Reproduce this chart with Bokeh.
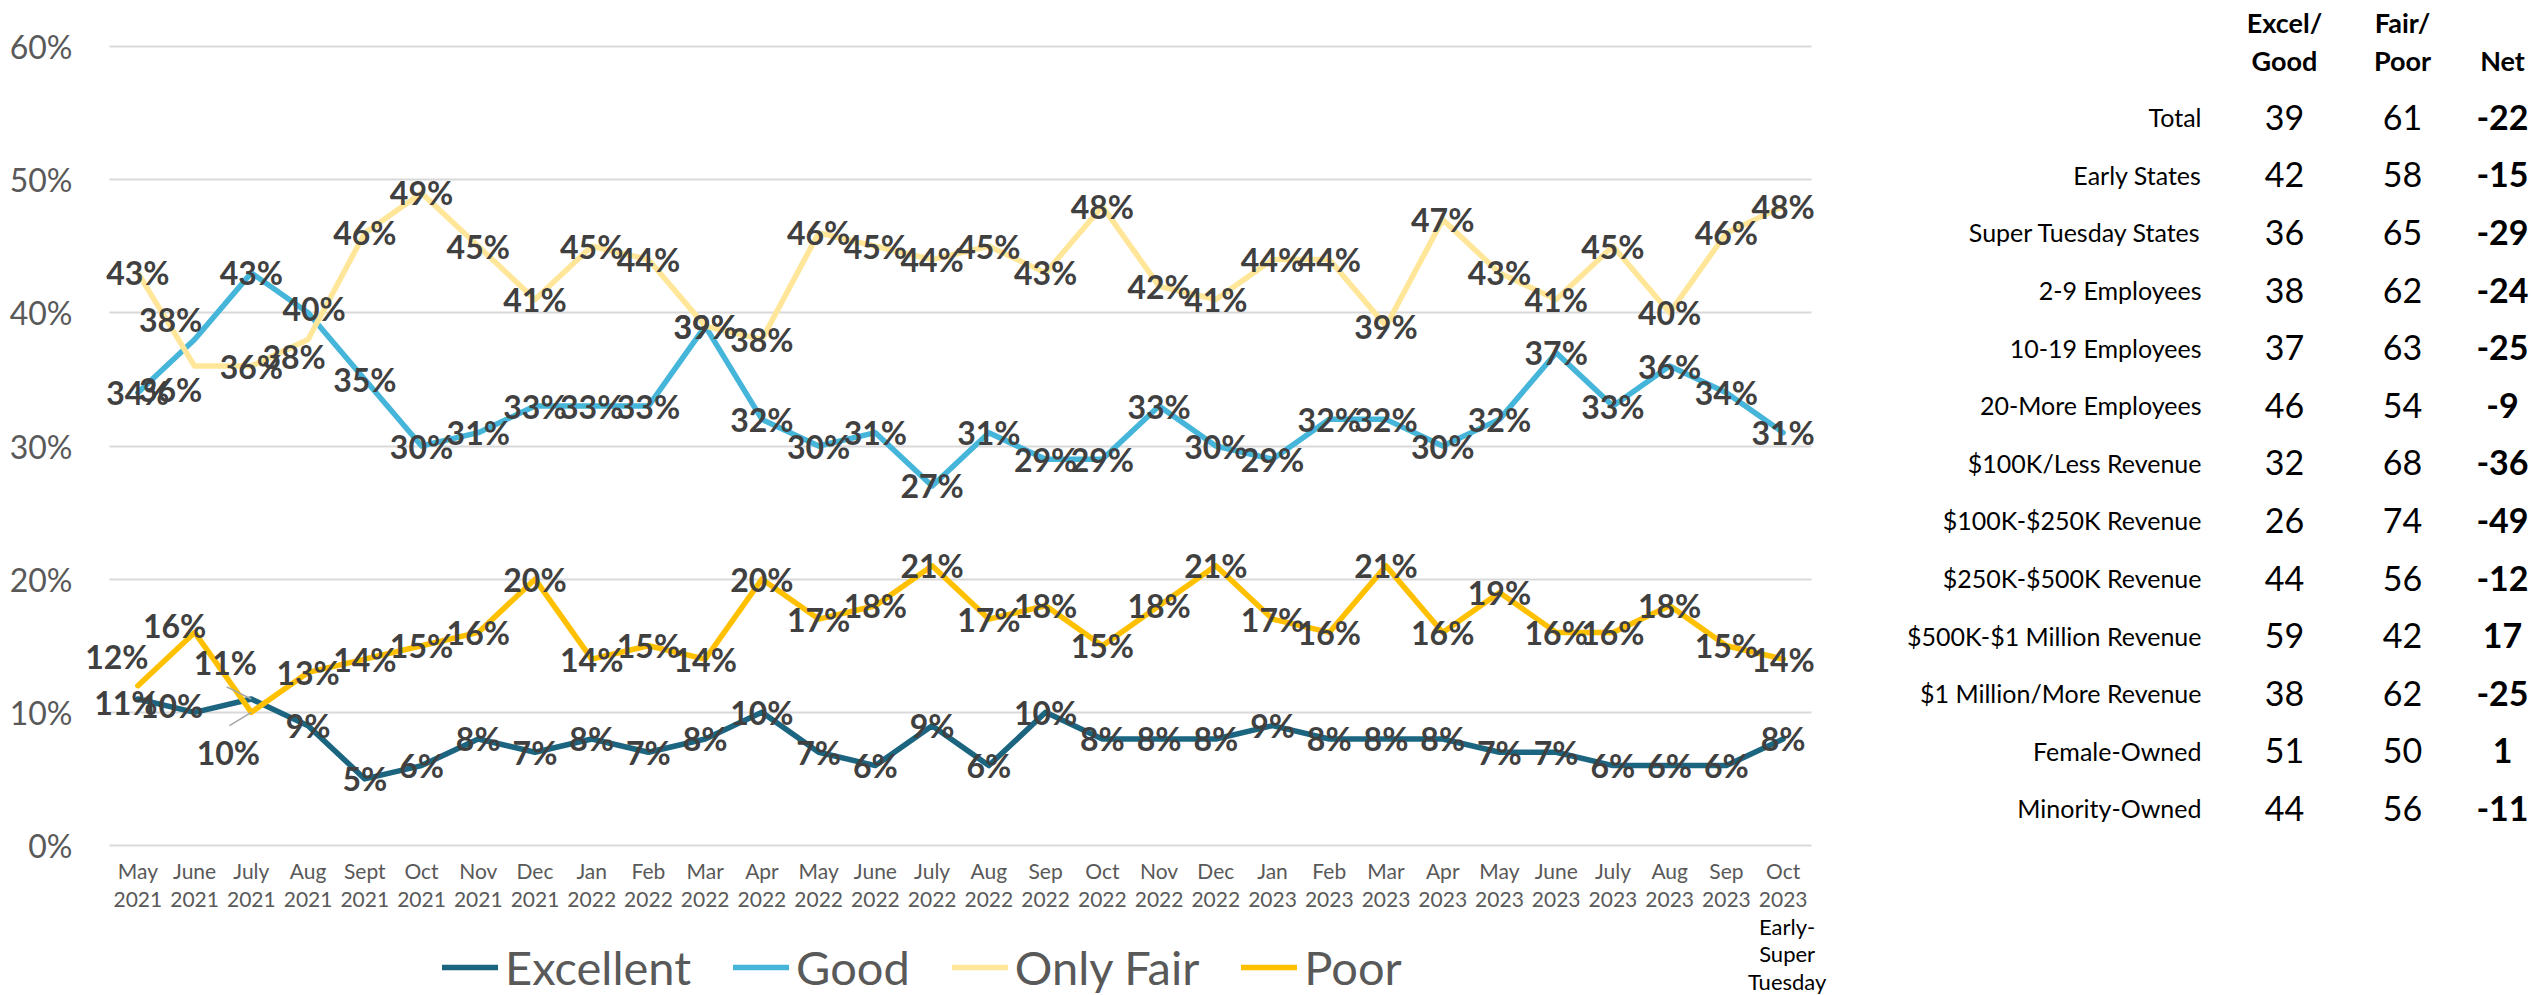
from bokeh.plotting import figure
from bokeh.models import (ColumnDataSource, LabelSet, Label, Legend, LegendItem,
                          FixedTicker, PrintfTickFormatter, Range1d, LinearAxis, Grid)
from bokeh.core.properties import value
from bokeh.embed import file_html
from bokeh.resources import INLINE

# ---------------- data ----------------
months = ["May 2021", "June 2021", "July 2021", "Aug 2021", "Sept 2021", "Oct 2021",
          "Nov 2021", "Dec 2021", "Jan 2022", "Feb 2022", "Mar 2022", "Apr 2022",
          "May 2022", "June 2022", "July 2022", "Aug 2022", "Sep 2022", "Oct 2022",
          "Nov 2022", "Dec 2022", "Jan 2023", "Feb 2023", "Mar 2023", "Apr 2023",
          "May 2023", "June 2023", "July 2023", "Aug 2023", "Sep 2023", "Oct 2023"]

excellent = [11, 10, 11, 9, 5, 6, 8, 7, 8, 7, 8, 10, 7, 6, 9, 6, 10, 8, 8, 8,
             9, 8, 8, 8, 7, 7, 6, 6, 6, 8]
good = [34, 38, 43, 40, 35, 30, 31, 33, 33, 33, 39, 32, 30, 31, 27, 31, 29, 29, 33, 30,
        29, 32, 32, 30, 32, 37, 33, 36, 34, 31]
only_fair = [43, 36, 36, 38, 46, 49, 45, 41, 45, 44, 39, 38, 46, 45, 44, 45, 43, 48, 42, 41,
             44, 44, 39, 47, 43, 41, 45, 40, 46, 48]
poor = [12, 16, 10, 13, 14, 15, 16, 20, 14, 15, 14, 20, 17, 18, 21, 17, 18, 15, 18, 21,
        17, 16, 21, 16, 19, 16, 16, 18, 15, 14]

y_ticks = [0, 10, 20, 30, 40, 50, 60]
last_note = "Early-\nSuper\nTuesday"

groups = ["Total", "Early States", "Super Tuesday States", "2-9 Employees",
          "10-19 Employees", "20-More Employees", "$100K/Less Revenue",
          "$100K-$250K Revenue", "$250K-$500K Revenue", "$500K-$1 Million Revenue",
          "$1 Million/More Revenue", "Female-Owned", "Minority-Owned"]
excel_good = [39, 42, 36, 38, 37, 46, 32, 26, 44, 59, 38, 51, 44]
fair_poor = [61, 58, 65, 62, 63, 54, 68, 74, 56, 42, 62, 50, 56]
net = [-22, -15, -29, -24, -25, -9, -36, -49, -12, 17, -25, 1, -11]
header_top = ["Excel/", "Fair/", ""]
header_bottom = ["Good", "Poor", "Net"]

# ---------------- style / geometry ----------------
FONT = "Lato"
series = [("Excellent", excellent, "#1B6580"),
          ("Good", good, "#45B5DA"),
          ("Only Fair", only_fair, "#FFE699"),
          ("Poor", poor, "#FFC000")]

# manual label nudges in screen px (dx right, dy down), as in the original
nudges = {("Poor", 0): (-21, -29), ("Poor", 1): (-20, -7), ("Poor", 2): (-23, 40),
          ("Excellent", 0): (-12, 3), ("Excellent", 1): (-23, -7), ("Excellent", 2): (-26, -37),
          ("Good", 1): (-24, -20), ("Good", 3): (6, -4),
          ("Only Fair", 1): (-24, 23), ("Only Fair", 3): (-14, 17)}
leaders = [("Excellent", 2), ("Poor", 2)]

W, H = 2532, 995
PL, PR, PT, PB = 109, 1811, 46, 845       # chart plot area (px)
n = len(months)
px_x = (PR - PL) / n
px_y = (PB - PT) / (y_ticks[-1] - y_ticks[0])
x0 = -0.5 - PL / px_x
y0 = y_ticks[0] - (H - PB) / px_y

ROW_H, ROW0 = 57.6, 116.7                  # table rows (px)
rtop = -ROW0 / ROW_H

p = figure(width=W, height=H, output_backend="svg", toolbar_location=None,
           x_range=Range1d(x0, x0 + W / px_x), y_range=Range1d(y0, y0 + H / px_y),
           x_axis_type=None, y_axis_type=None, min_border=0)
p.extra_x_ranges = {"px": Range1d(0, W)}
p.extra_y_ranges = {"rows": Range1d(rtop + H / ROW_H, rtop)}
p.outline_line_color = None

grid = Grid(dimension=1, ticker=FixedTicker(ticks=y_ticks), cross_bounds=(-0.5, n - 0.5),
            grid_line_color="#D9D9D9", grid_line_width=2)
p.add_layout(grid)

yax = LinearAxis(fixed_location=-0.5, ticker=FixedTicker(ticks=y_ticks),
                 formatter=PrintfTickFormatter(format="%d%%"),
                 axis_line_color=None, major_tick_line_color=None, minor_tick_line_color=None,
                 major_label_text_font=FONT, major_label_text_font_size="32px",
                 major_label_text_color="#595959", major_label_standoff=31)
p.add_layout(yax, "left")

xax = LinearAxis(fixed_location=y_ticks[0], ticker=FixedTicker(ticks=list(range(n))),
                 major_label_overrides={i: m.replace(" ", "\n") for i, m in enumerate(months)},
                 axis_line_color=None, major_tick_line_color=None, minor_tick_line_color=None,
                 major_label_text_font=FONT, major_label_text_font_size="21px",
                 major_label_text_color="#595959", major_label_standoff=6,
                 major_label_text_line_height=1.15)
p.add_layout(xax, "below")

xs = list(range(n))
renderers = []
lab = dict(x=[], y=[], text=[], xo=[], yo=[])
lead = dict(x0=[], y0=[], x1=[], y1=[])
for name, vals, col in series:
    r = p.line(xs, vals, line_color=col, line_width=5.5, line_join="round", line_cap="round")
    renderers.append((name, r))
    for i, v in enumerate(vals):
        dx, dy = nudges.get((name, i), (0, 0))
        lab["x"].append(i)
        lab["y"].append(v)
        lab["text"].append(f"{v}%")
        lab["xo"].append(dx)
        lab["yo"].append(-dy)
        if (name, i) in leaders:
            lead["x0"].append(i)
            lead["y0"].append(v)
            lead["x1"].append(i + 0.95 * dx / px_x)
            lead["y1"].append(v - 0.33 * dy / px_y)

p.segment(x0="x0", y0="y0", x1="x1", y1="y1", source=ColumnDataSource(lead),
          line_color="#A6A6A6", line_width=1.5)

labels = LabelSet(x="x", y="y", text="text", x_offset="xo", y_offset="yo",
                  source=ColumnDataSource(lab), text_align=value("center"),
                  text_baseline=value("middle"), text_font=value(FONT),
                  text_font_size=value("32px"), text_font_style=value("bold"),
                  text_color=value("#404040"))
p.add_layout(labels)

note = Label(x=n - 1, y=y_ticks[0], x_offset=4, y_offset=-67, text=last_note,
             text_align="center", text_baseline="top", text_font=FONT,
             text_font_size="22px", text_color="black", text_line_height=1.03)
p.add_layout(note)

legend = Legend(items=[LegendItem(label=nm, renderers=[r]) for nm, r in renderers],
                orientation="horizontal", location=(442, 0),
                label_text_font=FONT, label_text_font_size="47px",
                label_text_color="#595959", glyph_width=56, glyph_height=30,
                label_standoff=7, spacing=42, padding=0, margin=0,
                border_line_alpha=0, background_fill_alpha=0)
p.add_layout(legend)

# ---------------- table ----------------
rows = list(range(len(groups)))
src = ColumnDataSource(dict(row=rows, label=groups,
                            eg=[str(v) for v in excel_good],
                            fp=[str(v) for v in fair_poor],
                            net=[str(v) for v in net]))
col_label, col_eg, col_fp, col_net = 2201, 2284, 2402, 2502
common = dict(source=src, x_range_name="px", y_range_name="rows",
              text_baseline="middle", text_font=value(FONT), text_color="black")
p.text(x=col_label, y="row", text="label", text_align="right", text_font_size="25px", **common)
p.text(x=col_eg, y="row", text="eg", text_align="center", text_font_size="34px", **common)
p.text(x=col_fp, y="row", text="fp", text_align="center", text_font_size="34px", **common)
p.text(x=col_net, y="row", text="net", text_align="center", text_font_size="34px",
       text_font_style="bold", **common)

hsrc = ColumnDataSource(dict(x=[col_eg, col_fp, col_net], y=[-1, -1, -1],
                             top=header_top, bottom=header_bottom))
hcommon = dict(source=hsrc, x_range_name="px", y_range_name="rows", text_align="center",
               text_baseline="middle", text_font=value(FONT), text_font_size="27px",
               text_font_style="bold", text_color="black")
p.text(x="x", y="y", text="bottom", y_offset=1, **hcommon)
p.text(x="x", y="y", text="top", y_offset=-37, **hcommon)

open("out.html", "w").write(file_html(p, INLINE))
